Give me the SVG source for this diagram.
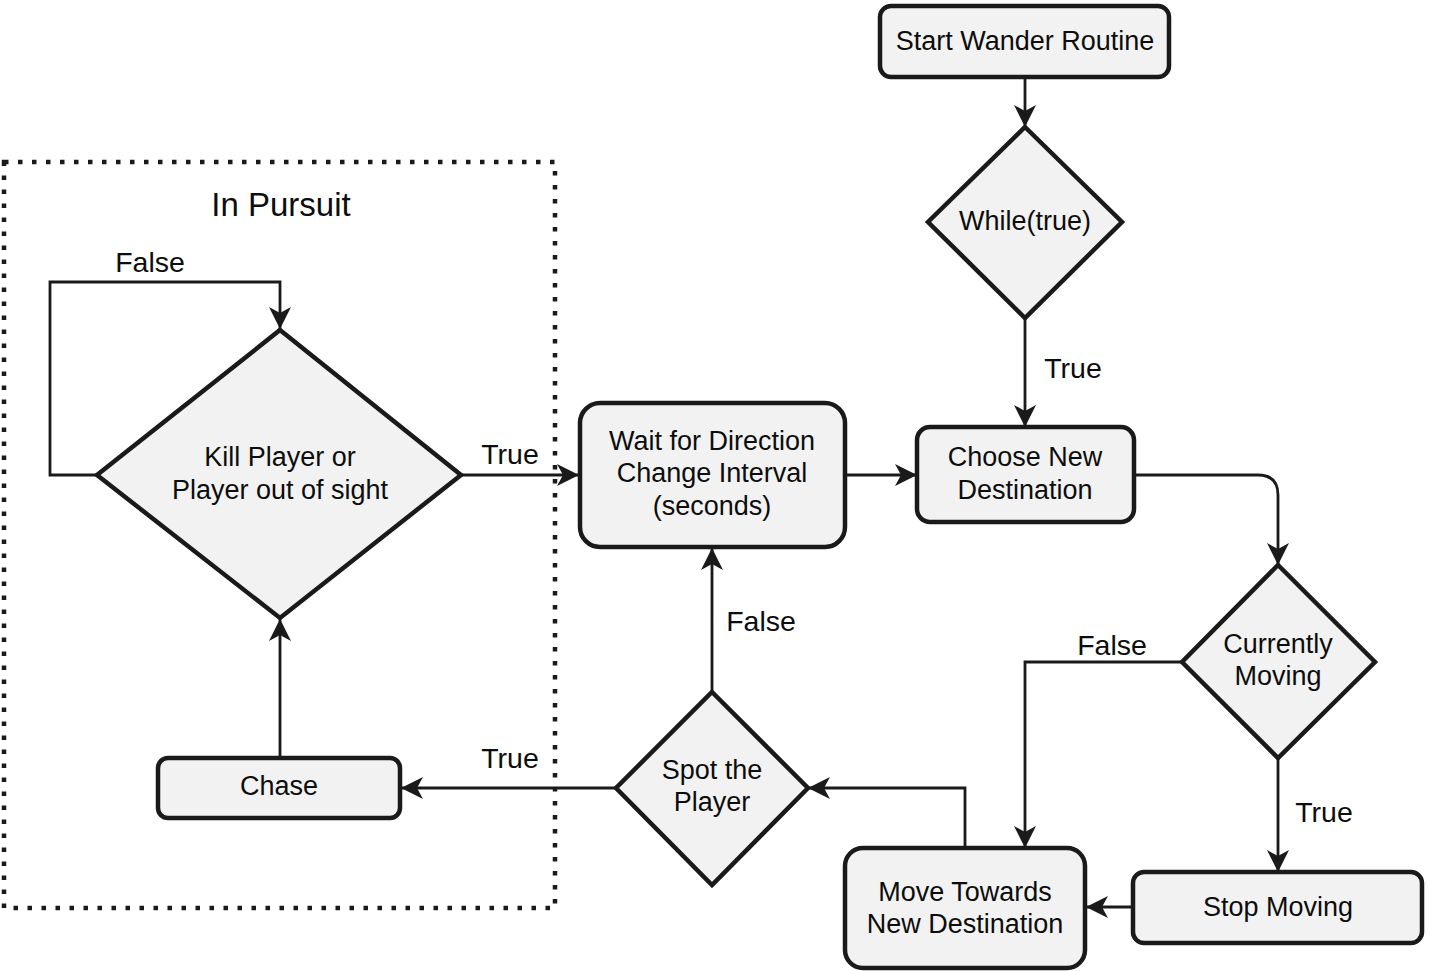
<svg xmlns="http://www.w3.org/2000/svg" width="1429" height="971" viewBox="0 0 1429 971">
<style>
.n{fill:#f2f2f2;stroke:#1a1a1a;stroke-width:4.5}
.t{font-family:"Liberation Sans",Arial,Helvetica,sans-serif;font-size:27px;fill:#0d0d0d;text-anchor:middle}
.l{font-family:"Liberation Sans",Arial,Helvetica,sans-serif;font-size:28.5px;fill:#0d0d0d;text-anchor:middle}
.c{fill:none;stroke:#1a1a1a;stroke-width:2.8}
</style>
<defs>
<marker id="a" markerUnits="userSpaceOnUse" markerWidth="24" markerHeight="22" refX="22" refY="11" orient="auto">
<path d="M0,0 L22,11 L0,22 L6,11 Z" fill="#1a1a1a"/>
</marker>
</defs>
<rect x="0" y="0" width="1429" height="971" fill="#fff"/>
<g id="pursuit">
<rect x="4" y="162" width="551" height="746" fill="none" stroke="#1a1a1a" stroke-width="4.5" stroke-dasharray="4.5 9.5"/>
<text class="t" x="281" y="216" style="font-size:33px">In Pursuit</text>
</g>
<g id="connectors">
<path class="c" d="M1025,77 V127" marker-end="url(#a)"/>
<path class="c" d="M1025,318 V427" marker-end="url(#a)"/>
<path class="c" d="M845,475 H917" marker-end="url(#a)"/>
<path class="c" d="M1134,475 H1258 Q1278,475 1278,495 V565" marker-end="url(#a)"/>
<path class="c" d="M1182,662 H1025 V848" marker-end="url(#a)"/>
<path class="c" d="M1278,758 V872" marker-end="url(#a)"/>
<path class="c" d="M1133,907 H1086" marker-end="url(#a)"/>
<path class="c" d="M965,848 V788 H808" marker-end="url(#a)"/>
<path class="c" d="M712,692 V548" marker-end="url(#a)"/>
<path class="c" d="M616,788 H401" marker-end="url(#a)"/>
<path class="c" d="M280,758 V619" marker-end="url(#a)"/>
<path class="c" d="M97,475 H50 V282 H280 V329" marker-end="url(#a)"/>
<path class="c" d="M461,475 H579" marker-end="url(#a)"/>
<text class="l" x="1073" y="378">True</text>
<text class="l" x="150" y="272">False</text>
<text class="l" x="510" y="464">True</text>
<text class="l" x="761" y="631">False</text>
<text class="l" x="1112" y="655">False</text>
<text class="l" x="1324" y="822">True</text>
<text class="l" x="510" y="768">True</text>
</g>
<g id="start">
<rect class="n" x="880" y="6" width="289" height="71" rx="11"/>
<text class="t" x="1025" y="50">Start Wander Routine</text>
</g>
<g id="while">
<polygon class="n" points="1025,127 1122,222 1025,318 928,222"/>
<text class="t" x="1025" y="230">While(true)</text>
</g>
<g id="choose">
<rect class="n" x="917" y="427" width="217" height="95" rx="13"/>
<text class="t" x="1025" y="466">Choose New</text>
<text class="t" x="1025" y="499">Destination</text>
</g>
<g id="wait">
<rect class="n" x="580" y="403" width="265" height="144" rx="20"/>
<text class="t" x="712" y="450">Wait for Direction</text>
<text class="t" x="712" y="482">Change Interval</text>
<text class="t" x="712" y="515">(seconds)</text>
</g>
<g id="moving">
<polygon class="n" points="1278,565 1375,662 1278,758 1182,662"/>
<text class="t" x="1278" y="653">Currently</text>
<text class="t" x="1278" y="685">Moving</text>
</g>
<g id="stop">
<rect class="n" x="1133" y="872" width="289" height="71" rx="11"/>
<text class="t" x="1278" y="916">Stop Moving</text>
</g>
<g id="move">
<rect class="n" x="845" y="848" width="240" height="120" rx="18"/>
<text class="t" x="965" y="901">Move Towards</text>
<text class="t" x="965" y="933">New Destination</text>
</g>
<g id="spot">
<polygon class="n" points="712,692 808,788 712,885 616,788"/>
<text class="t" x="712" y="779">Spot the</text>
<text class="t" x="712" y="811">Player</text>
</g>
<g id="chase">
<rect class="n" x="158" y="758" width="242" height="60" rx="10"/>
<text class="t" x="279" y="795">Chase</text>
</g>
<g id="kill">
<polygon class="n" points="280,330 461,475 280,618 97,475"/>
<text class="t" x="280" y="466">Kill Player or</text>
<text class="t" x="280" y="499">Player out of sight</text>
</g>
</svg>
